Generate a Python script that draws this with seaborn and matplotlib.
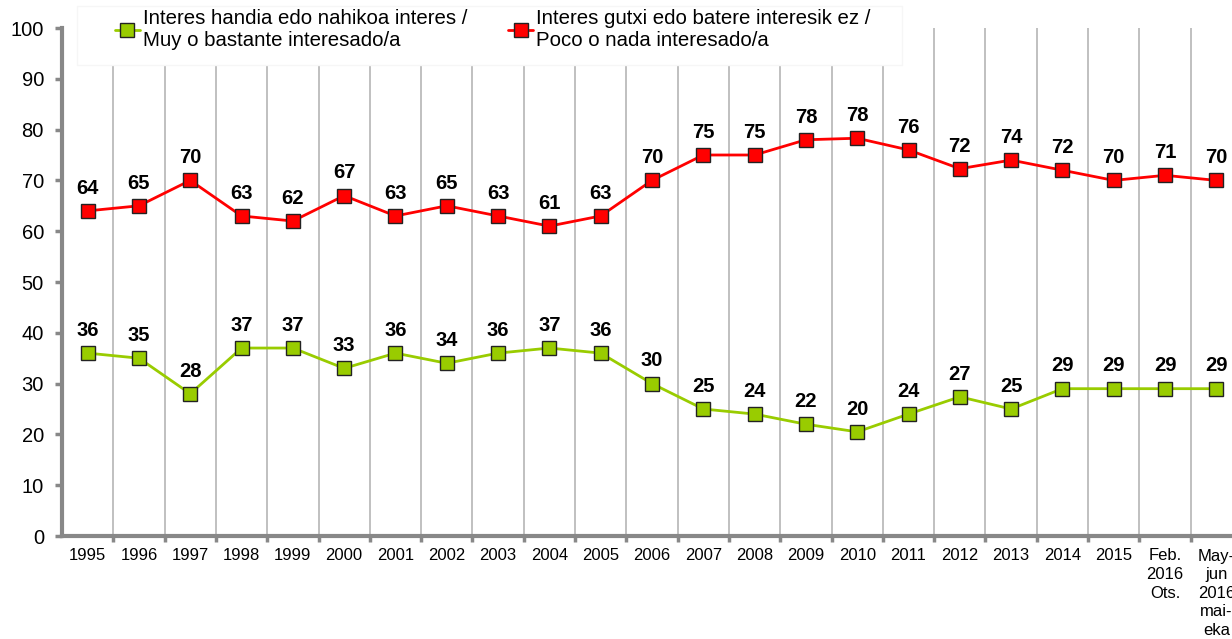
import numpy as np
import pandas as pd
import matplotlib
matplotlib.use("Agg")
import matplotlib.pyplot as plt
from matplotlib.patches import Rectangle
import seaborn as sns

periods = ["1995", "1996", "1997", "1998", "1999", "2000", "2001", "2002",
           "2003", "2004", "2005", "2006", "2007", "2008", "2009", "2010",
           "2011", "2012", "2013", "2014", "2015", "Feb.\n2016\nOts.",
           "May-\njun\n2016\nmai-\neka"]

interested = [36, 35, 28, 37, 37, 33, 36, 34, 36, 37, 36, 30, 25, 24, 22,
              20.5, 24, 27.4, 25, 29, 29, 29, 29]
not_interested = [64, 65, 70, 63, 62, 67, 63, 65, 63, 61, 63, 70, 75, 75, 78,
                  78.3, 76, 72.3, 74, 72, 70, 71, 70]

label_green = "Interes handia edo nahikoa interes /\nMuy o bastante interesado/a"
label_red = "Interes gutxi edo batere interesik ez /\nPoco o nada interesado/a"

GREEN = "#99CC00"
RED = "#FF0000"
W, H = 1232, 639

sns.set_style("white")
plt.rcParams['font.family'] = ['Liberation Sans', 'DejaVu Sans']
plt.rcParams['text.color'] = 'black'
plt.rcParams['xtick.color'] = 'black'
plt.rcParams['ytick.color'] = 'black'

df = pd.DataFrame({
    "pos": np.arange(len(periods)),
    "green": interested,
    "red": not_interested,
})

fig = plt.figure(figsize=(W / 100, H / 100), dpi=100)
ax = fig.add_axes([62 / W, (H - 536) / H, 1180 / W, 508 / H])

sns.lineplot(data=df, x="pos", y="green", ax=ax, color=GREEN, lw=2,
             marker="s", markersize=10.5, markerfacecolor=GREEN,
             markeredgecolor="#222222", markeredgewidth=1, label=label_green)
sns.lineplot(data=df, x="pos", y="red", ax=ax, color=RED, lw=2,
             marker="s", markersize=10.5, markerfacecolor=RED,
             markeredgecolor="#222222", markeredgewidth=1, label=label_red)

for i, (g, r) in enumerate(zip(interested, not_interested)):
    for v in (g, r):
        ax.annotate(f"{round(v)}", (i, v), xytext=(0, 9.5), textcoords="offset points",
                    ha="center", va="bottom", fontsize=14.5, fontweight="bold")

ax.set_xlim(-0.5, len(periods) - 0.5)
ax.set_ylim(0, 100)
ax.set_yticks(range(0, 101, 10))
ax.set_xticks(range(len(periods)))
ax.set_xticklabels(periods, fontsize=12, linespacing=1.3)
ax.tick_params(axis="y", labelsize=14.5, length=5, width=2.5, color="#888888",
               pad=8, direction="out", left=True)
ax.tick_params(axis="x", which="major", length=0, pad=9)
ax.set_xticks(np.arange(0.5, len(periods) - 0.5), minor=True)
ax.tick_params(axis="x", which="minor", length=4, width=2.5, color="#888888",
               direction="out", bottom=True)
ax.grid(axis="x", which="minor", color="#BBBBBB", lw=1.3)
ax.grid(axis="x", which="major", visible=False)
ax.grid(axis="y", visible=False)
ax.set_xlabel("")
ax.set_ylabel("")

for side in ["top", "right"]:
    ax.spines[side].set_visible(False)
for side in ["left", "bottom"]:
    ax.spines[side].set_color("#888888")
    ax.spines[side].set_linewidth(3)

# white box behind the legend, covering the top of the grid
box = Rectangle((77 / W, 1 - 65 / H), 825 / W, 59 / H, transform=fig.transFigure,
                facecolor="white", edgecolor="#F6F6F6", lw=1, zorder=4, clip_on=False)
ax.add_patch(box)

leg = ax.legend(loc="upper left", bbox_to_anchor=(115 / W, 1 - 9 / H),
                bbox_transform=fig.transFigure, ncol=2, frameon=False,
                fontsize=14.7, handlelength=1.22, handletextpad=0.15,
                columnspacing=2.0, borderpad=0, borderaxespad=0, markerscale=0.9)
leg.set_zorder(6)

fig.savefig("out.png", dpi=100)
